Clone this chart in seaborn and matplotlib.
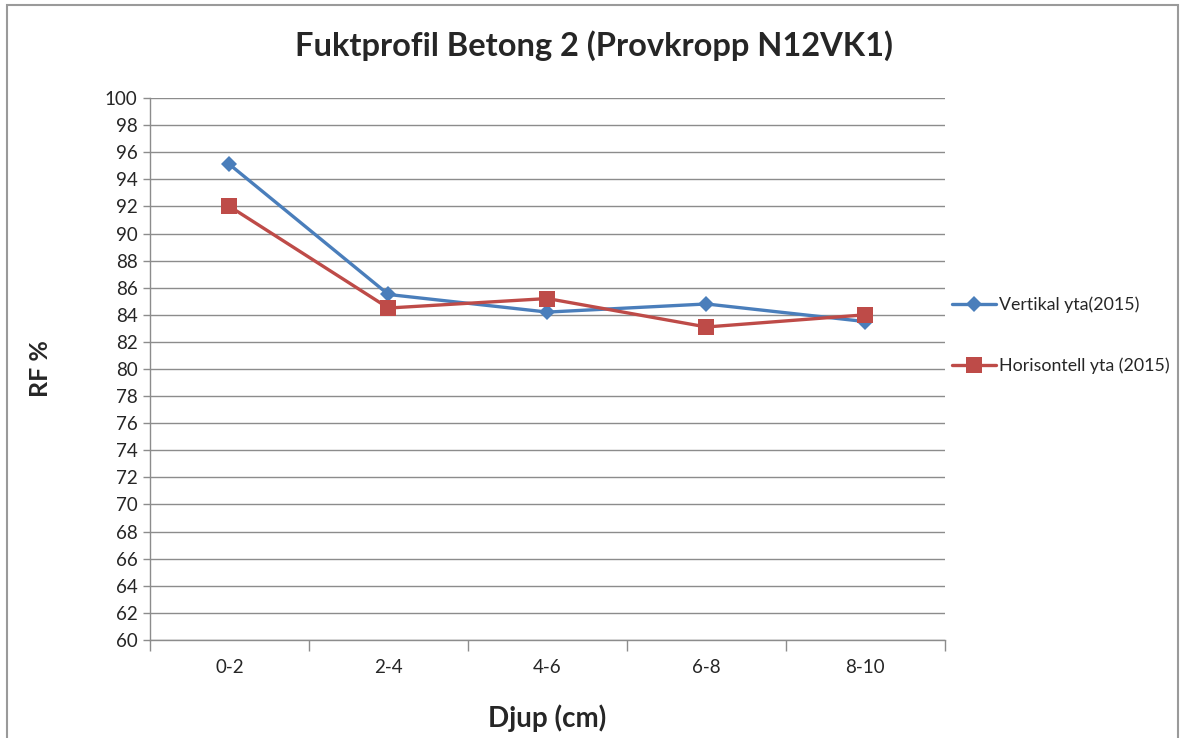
import matplotlib
matplotlib.use("Agg")
import matplotlib.pyplot as plt
import seaborn as sns
import pandas as pd
from matplotlib.patches import Rectangle
from matplotlib.ticker import FixedLocator, NullFormatter

categories = ["0-2", "2-4", "4-6", "6-8", "8-10"]
vertikal = [95.1, 85.5, 84.2, 84.8, 83.5]
horisontell = [92.0, 84.5, 85.2, 83.1, 84.0]
series_names = ["Vertikal yta(2015)", "Horisontell yta (2015)"]
y_ticks = list(range(60, 101, 2))

df = pd.DataFrame({
    "Djup": categories * 2,
    "RF": vertikal + horisontell,
    "Serie": [series_names[0]] * len(categories) + [series_names[1]] * len(categories),
})

sns.set_theme(style="white")
plt.rcParams["font.family"] = ["Lato", "DejaVu Sans"]

fig = plt.figure(figsize=(11.81, 7.38), dpi=100)
ax = fig.add_axes([0.127, 0.1328, 0.673, 0.7344])

palette = {series_names[0]: "#4A7EBB", series_names[1]: "#BE4B48"}
for name, mk, ms in [(series_names[0], "D", 8.5), (series_names[1], "s", 11)]:
    sub = df[df["Serie"] == name]
    sns.lineplot(data=sub, x="Djup", y="RF", ax=ax, color=palette[name], marker=mk,
                 markersize=ms, linewidth=2.4, markeredgewidth=0, label=name, sort=False)

ax.set_xlim(-0.5, len(categories) - 0.5)
ax.set_ylim(60, 100)
ax.set_yticks(y_ticks)
ax.grid(axis="y", color="#8c8c8c", linewidth=1.0)
ax.grid(axis="x", visible=False)
ax.set_axisbelow(True)
for s in ["top", "right"]:
    ax.spines[s].set_visible(False)
for s in ["left", "bottom"]:
    ax.spines[s].set_color("#8c8c8c")
    ax.spines[s].set_linewidth(1.0)

ax.xaxis.set_minor_locator(FixedLocator([i - 0.5 for i in range(len(categories) + 1)]))
ax.xaxis.set_minor_formatter(NullFormatter())
ax.tick_params(axis="x", which="major", length=0, pad=14, labelsize=13.5)
ax.tick_params(axis="x", which="minor", length=8, color="#8c8c8c", width=1, direction="out", bottom=True)
ax.tick_params(axis="y", which="major", length=5, color="#8c8c8c", width=1, direction="out", left=True, labelsize=13.5, pad=4)

ax.set_xlabel("Djup (cm)", fontsize=20, fontweight="bold")
ax.xaxis.set_label_coords(0.5, -0.144)
ax.xaxis.label.set_va("center")
ax.set_ylabel("RF %", fontsize=18, fontweight="bold")
ax.yaxis.set_label_coords(-0.138, 0.5)
ax.yaxis.label.set_va("center")

fig.text(0.503, 0.938, "Fuktprofil Betong 2 (Provkropp N12VK1)", ha="center", va="center",
         fontsize=23.5, fontweight="bold")

leg = ax.legend(loc="center left", bbox_to_anchor=(1.0, 0.562), frameon=False,
                fontsize=12.8, handlelength=2.5, handletextpad=0.15, labelspacing=2.5,
                borderaxespad=0.2, borderpad=0.2)

fig.patches.append(Rectangle((7 / 1181, -0.1), (1178 - 7) / 1181, 1.1 - 5 / 738,
                             transform=fig.transFigure, fill=False, edgecolor="#9a9a9a", linewidth=1.5))

fig.savefig("out.png", dpi=100)
